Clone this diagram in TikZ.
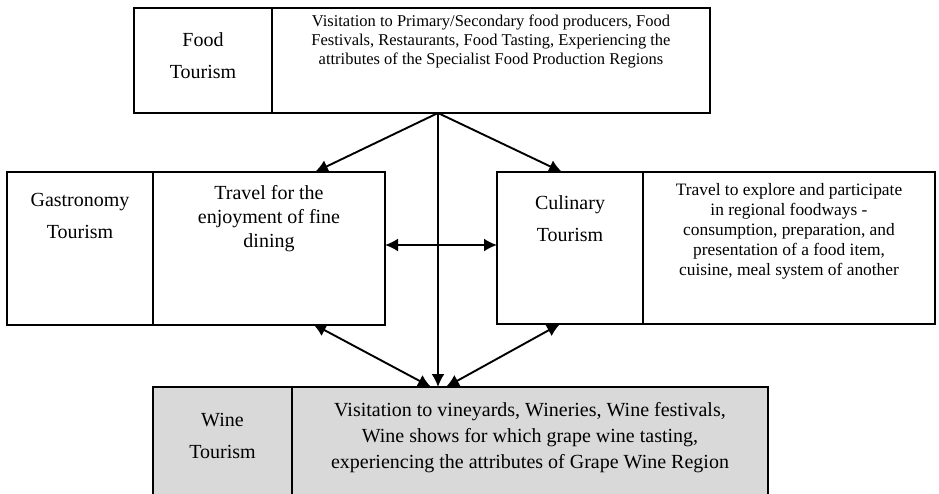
\documentclass[tikz,border=0pt]{standalone}
\usepackage{fontspec}
\setmainfont{Liberation Serif}
\usetikzlibrary{arrows.meta}
\definecolor{winegray}{HTML}{D9D9D9}
\begin{document}
\begin{tikzpicture}[x=1pt,y=-1pt,
  cell/.style={draw, line width=1.8pt, inner sep=0pt, outer sep=0pt},
  ttl/.style={align=center, inner sep=0pt, font=\fontsize{20}{32}\selectfont},
  dtop/.style={align=center, inner sep=0pt, font=\fontsize{16.5}{19}\selectfont},
  dgas/.style={align=center, inner sep=0pt, font=\fontsize{20}{24}\selectfont},
  dcul/.style={align=center, inner sep=0pt, font=\fontsize{17.4}{20}\selectfont},
  dwine/.style={align=center, inner sep=0pt, font=\fontsize{20}{26}\selectfont},
  conn/.style={line width=1.9pt, -{Latex[length=13pt,width=13pt]}},
  dconn/.style={line width=1.9pt, {Latex[length=13pt,width=13pt]}-{Latex[length=13pt,width=13pt]}}]
\useasboundingbox (0,0) rectangle (939,493);
\clip (0,0) rectangle (939,493);
% cells
\node[cell, minimum width=138pt, minimum height=105pt] (ft) at (203,60.5) {};
\node[cell, minimum width=438pt, minimum height=105pt] (fd) at (491,60.5) {};
\node[cell, minimum width=146pt, minimum height=153pt] (gt) at (80,248.5) {};
\node[cell, minimum width=232pt, minimum height=153pt] (gd) at (269,248.5) {};
\node[cell, minimum width=146pt, minimum height=152pt] (ct) at (570,248) {};
\node[cell, minimum width=292pt, minimum height=152pt] (cd) at (789,248) {};
\node[cell, fill=winegray, minimum width=139pt, minimum height=118pt] (wt) at (222.5,446) {};
\node[cell, fill=winegray, minimum width=476pt, minimum height=118pt] (wd) at (530,446) {};
% texts
\node[ttl] (ftx) at (203,56) {Food\\Tourism};
\node[dtop] (fdx) at (491,41) {Visitation to Primary/Secondary food producers, Food\\Festivals, Restaurants, Food Tasting, Experiencing the\\attributes of the Specialist Food Production Regions};
\node[ttl] (gtx) at (80,216) {Gastronomy\\Tourism};
\node[dgas] (gdx) at (269,219) {Travel for the\\enjoyment of fine\\dining};
\node[ttl] (ctx) at (570,219) {Culinary\\Tourism};
\node[dcul] (cdx) at (789,231) {Travel to explore and participate\\in regional foodways -\\consumption, preparation, and\\presentation of a food item,\\cuisine, meal system of another};
\node[ttl] (wtx) at (222.5,436) {Wine\\Tourism};
\node[dwine] (wdx) at (530,438) {Visitation to vineyards, Wineries, Wine festivals,\\Wine shows for which grape wine tasting,\\experiencing the attributes of Grape Wine Region};
% connector points
\coordinate (hub) at (438,113);
\coordinate (gin) at (315,172);
\coordinate (cin) at (562,172);
\coordinate (win) at (438,387);
\coordinate (gside) at (385,245);
\coordinate (cside) at (497,245);
\coordinate (gbot) at (313,324);
\coordinate (wl) at (431,387);
\coordinate (cbot) at (560,324);
\coordinate (wr) at (446,387);
% connectors
\draw[conn] (hub) -- (gin);
\draw[conn] (hub) -- (cin);
\draw[conn] (hub) -- (win);
\draw[dconn] (gside) -- (cside);
\draw[dconn] (gbot) -- (wl);
\draw[dconn] (cbot) -- (wr);
\end{tikzpicture}
\end{document}
